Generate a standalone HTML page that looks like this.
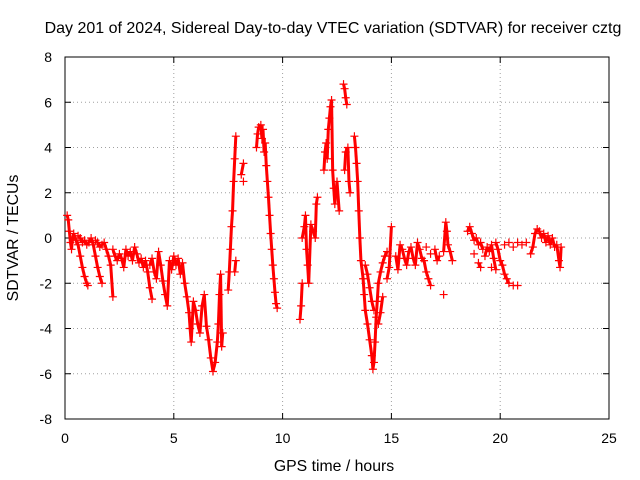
<!DOCTYPE html>
<html><head><meta charset="utf-8"><style>
body{margin:0;background:#fff;}
svg{display:block;font-family:"Liberation Sans",sans-serif;}
</style></head><body>
<svg id="chart" width="640" height="480" viewBox="0 0 640 480">
<rect width="640" height="480" fill="#fff"/>
<text x="333" y="33" font-size="16" text-anchor="middle">Day 201 of 2024, Sidereal Day-to-day VTEC variation (SDTVAR) for receiver cztg</text>
<text x="334" y="471" font-size="15.8" text-anchor="middle">GPS time / hours</text>
<text transform="translate(18,238) rotate(-90)" font-size="15.8" text-anchor="middle">SDTVAR / TECUs</text>
<g id="grid"></g>
<g id="axes"></g>
<g id="marks"></g>
</svg>
<script>
const xTicks=[0,5,10,15,20,25];
const yTicks=[-8,-6,-4,-2,0,2,4,6,8];
const times=[0.1,0.15,0.2,0.25,0.3,0.35,0.4,0.5,0.6,0.7,0.8,0.9,1.0,1.05,0.6,0.7,0.8,0.9,1.0,1.1,1.2,1.3,1.4,1.5,1.6,1.7,1.4,1.5,1.6,1.7,1.8,1.9,2.0,2.1,2.2,2.2,2.3,2.4,2.5,2.6,2.7,2.8,2.9,3.0,3.1,3.2,3.3,3.4,3.5,3.6,3.7,3.8,3.9,4.0,3.9,4.0,4.1,4.2,4.3,4.4,4.5,4.6,4.7,4.8,4.9,5.0,5.1,5.2,5.3,5.4,5.5,5.6,5.7,5.75,5.8,5.9,6.0,6.1,6.2,6.3,6.4,6.5,6.6,6.7,6.8,6.9,7.0,7.05,7.1,7.15,7.2,7.25,7.5,7.55,7.6,7.65,7.7,7.75,7.8,7.85,7.8,7.85,8.1,8.2,8.2,8.8,8.85,8.9,9.0,9.05,9.1,9.15,9.2,9.25,9.3,9.35,9.4,9.45,9.5,9.55,9.6,9.65,9.7,9.75,10.8,10.85,10.9,10.9,11.0,11.05,11.1,11.15,11.2,11.3,11.4,11.5,11.55,11.6,11.9,11.95,12.0,12.05,12.1,12.15,12.2,12.25,12.3,12.35,12.4,12.5,12.6,12.8,12.85,12.9,12.95,12.85,12.9,13.0,13.05,13.1,13.3,13.35,13.4,13.45,13.5,13.55,13.6,13.7,13.75,13.8,13.9,14.0,14.1,14.15,14.2,14.25,14.3,14.35,14.4,14.5,14.6,14.7,14.8,13.8,13.9,14.0,14.1,14.2,14.4,14.5,14.6,14.8,14.9,15.0,15.2,15.3,15.4,15.5,15.6,15.7,15.8,15.9,16.0,16.1,16.2,16.3,16.4,16.5,16.6,16.7,16.8,16.6,16.8,17.0,17.1,17.2,17.4,17.4,17.5,17.55,17.6,17.7,17.8,18.5,18.6,18.7,18.8,18.9,19.0,19.1,19.2,18.8,19.0,19.1,19.3,19.4,19.5,19.6,19.7,19.8,19.6,19.8,19.9,20.0,20.1,20.2,20.3,20.4,20.6,20.8,20.2,20.4,20.6,20.8,21.0,21.2,21.4,21.5,21.6,21.7,21.8,21.9,22.0,22.1,22.2,22.3,22.4,22.5,22.6,22.7,22.75,22.8];
const values=[1.0,0.8,0.3,-0.2,-0.5,0.0,0.2,-0.1,-0.3,-0.8,-1.3,-1.7,-2.0,-2.1,0.1,0.0,-0.2,-0.1,-0.3,-0.2,0.0,-0.3,-0.8,-1.3,-1.7,-2.0,-0.1,-0.2,-0.4,-0.3,-0.2,-0.5,-0.8,-1.2,-2.6,-0.5,-0.8,-1.0,-0.7,-0.9,-1.3,-0.5,-0.8,-0.6,-1.0,-0.4,-0.7,-1.1,-0.9,-1.3,-1.0,-1.5,-2.2,-2.7,-1.2,-0.9,-1.5,-1.8,-0.6,-1.2,-1.9,-2.5,-3.0,-1.0,-1.4,-0.8,-1.2,-0.9,-1.6,-1.1,-2.0,-2.6,-3.3,-4.0,-4.6,-2.8,-3.2,-3.8,-4.2,-3.0,-2.5,-3.9,-4.5,-5.3,-5.9,-5.5,-4.6,-3.8,-2.5,-1.6,-4.8,-4.2,-2.3,-1.5,-0.5,0.5,1.2,2.5,3.5,4.5,-1.5,-1.0,2.8,3.3,2.5,4.0,4.6,4.9,5.0,4.4,4.8,3.8,4.2,3.2,2.5,1.8,1.0,0.2,-0.5,-1.2,-1.8,-2.4,-2.9,-3.1,-3.6,-3.0,-2.0,0.0,0.5,1.0,-0.5,-1.2,-2.0,0.6,0.3,0.0,1.5,1.8,3.0,3.8,4.2,3.5,4.8,5.3,5.8,6.1,3.0,2.2,1.5,2.5,1.2,6.8,6.6,6.2,5.9,3.0,3.8,4.0,2.5,2.0,4.5,4.0,3.3,2.5,1.2,0.0,-1.0,-1.8,-2.5,-3.2,-3.8,-4.5,-5.2,-5.8,-5.5,-4.6,-3.5,-2.8,-2.0,-1.5,-1.1,-0.8,-0.6,-1.2,-1.6,-2.2,-2.8,-3.2,-3.8,-3.3,-2.6,-1.8,-1.3,0.5,-0.8,-1.4,-0.3,-0.5,-0.9,-1.2,-0.6,-0.4,-0.9,-1.2,-0.2,-0.5,-0.9,-1.0,-1.5,-1.8,-2.1,-0.4,-0.7,-0.5,-1.0,-0.8,-2.5,-0.6,0.7,0.3,-0.3,-0.6,-1.0,0.3,0.5,0.2,-0.1,0.0,-0.3,-0.2,-0.5,-0.7,-1.1,-1.3,-0.8,-0.4,-0.6,-0.3,-0.9,-1.4,-1.3,-0.2,-0.5,-1.0,-1.2,-1.6,-1.8,-2.0,-2.1,-2.1,-0.3,-0.2,-0.4,-0.2,-0.3,-0.2,-0.7,-0.4,0.2,0.4,0.3,0.0,0.2,-0.2,0.1,-0.3,0.0,-0.4,-0.3,-1.0,-1.3,-0.4];
const L=65,R=609,T=57,B=419,NS="http://www.w3.org/2000/svg";
const xs=t=>L+(t-0)/25*(R-L);
const ys=v=>B-(v+8)/16*(B-T);
function mk(tag,a,p){const e=document.createElementNS(NS,tag);for(const k in a)e.setAttribute(k,a[k]);p.appendChild(e);return e;}
const grid=document.getElementById('grid'),axes=document.getElementById('axes'),marks=document.getElementById('marks');
xTicks.forEach(t=>{const x=xs(t);
 if(t>0&&t<25){const g=mk('line',{x1:x,x2:x,y1:T,y2:B,stroke:'#a0a0a0','stroke-dasharray':'1,3'},grid);}
 mk('line',{x1:x,x2:x,y1:B,y2:B-6,stroke:'#000'},axes);mk('line',{x1:x,x2:x,y1:T,y2:T+6,stroke:'#000'},axes);
 const tx=mk('text',{x:x,y:443,'font-size':14,'text-anchor':'middle'},axes);tx.textContent=t;
 });
yTicks.forEach(v=>{const y=ys(v);
 if(v>-8&&v<8){const g=mk('line',{x1:L,x2:R,y1:y,y2:y,stroke:'#a0a0a0','stroke-dasharray':'1,3'},grid);}
 mk('line',{x1:L,x2:L+6,y1:y,y2:y,stroke:'#000'},axes);mk('line',{x1:R,x2:R-6,y1:y,y2:y,stroke:'#000'},axes);
 const tx=mk('text',{x:52,y:y+5,'font-size':14,'text-anchor':'end'},axes);tx.textContent=v;
 });
const fr=mk('rect',{x:L,y:T,width:R-L,height:B-T,fill:'none',stroke:'#000'},axes);

for(let i=0;i<times.length;i++){
 const x=xs(times[i]),y=ys(values[i]);
 if(i+1<times.length){const dt=times[i+1]-times[i];
  if(dt>0&&dt<=0.12){const s=mk('line',{x1:x,y1:y,x2:xs(times[i+1]),y2:ys(values[i+1]),stroke:'#ff0000','stroke-width':3},marks);
   }}
 const p=mk('path',{d:`M${x-4},${y}H${x+4}M${x},${y-4}V${y+4}`,stroke:'#ff0000','stroke-width':1.2,fill:'none'},marks);
 
 
}
</script>
</body></html>
